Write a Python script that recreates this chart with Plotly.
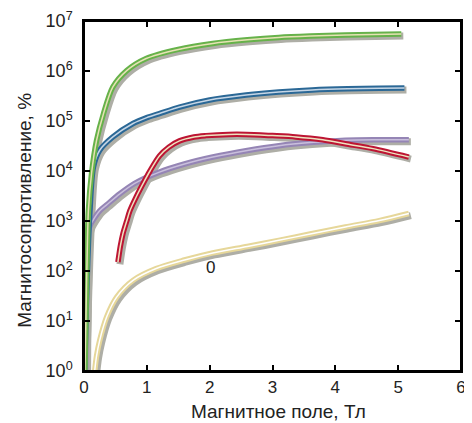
import plotly.graph_objects as go

# ---- data (field in T, magnetoresistance in %) ----
green_x = [0.015, 0.03, 0.05, 0.07, 0.12, 0.2, 0.31, 0.46, 0.68, 0.99, 1.5, 2.05, 2.6, 3.1, 3.6, 4.16, 4.6, 5.05]
green_y = [1e0, 1e1, 2.0e2, 1.6e3, 8.9e3, 4.1e4, 1.4e5, 4.8e5, 1.02e6, 1.78e6, 2.7e6, 3.55e6, 4.2e6, 4.7e6, 5.0e6, 5.25e6, 5.4e6, 5.5e6]

blue_x = [0.01, 0.03, 0.06, 0.095, 0.15, 0.25, 0.46, 0.78, 1.0, 1.2, 1.52, 2.0, 2.58, 3.1, 3.63, 4.2, 4.7, 5.1]
blue_y = [1e0, 1e1, 1.6e2, 1.6e3, 1.2e4, 2.6e4, 4.8e4, 8.9e4, 1.17e5, 1.41e5, 1.9e5, 2.63e5, 3.3e5, 3.8e5, 4.17e5, 4.4e5, 4.5e5, 4.57e5]

red_x = [0.54, 0.58, 0.62, 0.68, 0.73, 0.84, 0.94, 1.05, 1.2, 1.35, 1.52, 1.75, 1.94, 2.3, 2.58, 3.0, 3.37, 3.8, 4.16, 4.6, 5.17]
red_y = [1.5e2, 3.2e2, 5.6e2, 1.0e3, 1.6e3, 3.2e3, 5.6e3, 1.0e4, 2.0e4, 3.0e4, 4.0e4, 4.8e4, 5.1e4, 5.4e4, 5.4e4, 5.1e4, 4.8e4, 4.2e4, 3.5e4, 2.8e4, 1.9e4]

purple_x = [0.025, 0.03, 0.035, 0.04, 0.05, 0.07, 0.1, 0.15, 0.25, 0.36, 0.57, 0.8, 1.2, 1.6, 2.05, 2.6, 3.1, 3.6, 4.16, 4.6, 5.17]
purple_y = [1e0, 1e1, 6.3e1, 2.0e2, 4.0e2, 6.3e2, 8.3e2, 1.07e3, 1.6e3, 2.1e3, 3.5e3, 5.6e3, 9.5e3, 1.38e4, 1.9e4, 2.57e4, 3.2e4, 3.7e4, 4.1e4, 4.2e4, 4.2e4]

yellow_x = [0.17, 0.2, 0.25, 0.36, 0.52, 0.78, 1.15, 1.6, 2.05, 2.6, 3.1, 3.6, 4.16, 4.7, 5.17]
yellow_y = [1e0, 2.0e0, 4.1e0, 1.2e1, 3.0e1, 6.5e1, 1.12e2, 1.66e2, 2.3e2, 3.1e2, 4.1e2, 5.5e2, 7.6e2, 1.02e3, 1.41e3]

x_ticks = [0, 1, 2, 3, 4, 5, 6]
y_ticks = [1e0, 1e1, 1e2, 1e3, 1e4, 1e5, 1e6, 1e7]
y_tick_text = ["10<sup>%d</sup>" % i for i in range(8)]

x_title = "Магнитное поле, Тл"
y_title = "Магнитосопротивление, %"
label_text = "0"
label_x = 2.02
label_logy = 2.07

series = [
    (purple_x, purple_y, "#9585b5", "#c9bfdc"),
    (yellow_x, yellow_y, "#e6d79a", "#ffffff"),
    (red_x, red_y, "#bd1533", "#eee3c0"),
    (blue_x, blue_y, "#2b6896", "#c6d6e6"),
    (green_x, green_y, "#66b24a", "#e6e2b4"),
]
SM = 0.8

fig = go.Figure()
for xs, ys, c, ic in series:
    fig.add_trace(go.Scatter(x=xs, y=ys, mode="lines", xaxis="x", yaxis="y",
                             line=dict(color="#aeaea6", width=7, shape="spline", smoothing=SM),
                             hoverinfo="skip", showlegend=False))
for xs, ys, c, ic in series:
    fig.add_trace(go.Scatter(x=xs, y=ys, mode="lines", xaxis="x2", yaxis="y2",
                             line=dict(color=c, width=5.5, shape="spline", smoothing=SM),
                             showlegend=False))
    fig.add_trace(go.Scatter(x=xs, y=ys, mode="lines", xaxis="x2", yaxis="y2",
                             line=dict(color=ic, width=1.5, shape="spline", smoothing=SM),
                             hoverinfo="skip", showlegend=False))
fig.add_trace(go.Scatter(x=[None], y=[None], xaxis="x3", yaxis="y3", showlegend=False, hoverinfo="skip"))

FAM = "Liberation Sans, Arial, sans-serif"
px_per_x = 377 / 6.0
px_per_dec = 350 / 7.0
dx = 2.0 / px_per_x
dy = 2.0 / px_per_dec

tick_common = dict(ticks="inside", ticklen=6, tickwidth=1.5, tickcolor="black",
                   showgrid=False, zeroline=False, automargin=False)

frame = dict(color="#000000", width=2)

fig.update_layout(
    width=464, height=415,
    margin=dict(l=76, r=11, t=13, b=52, autoexpand=False),
    paper_bgcolor="white", plot_bgcolor="white",
    font=dict(family=FAM, size=18, color="#222"),
    xaxis=dict(range=[0 - dx, 6 - dx], visible=False, fixedrange=True, automargin=False),
    yaxis=dict(type="log", range=[0 + dy, 7 + dy], visible=False, fixedrange=True, automargin=False),
    xaxis2=dict(overlaying="x", side="bottom", range=[0, 6], tickvals=x_ticks,
                tickfont=dict(size=17), showline=True, linecolor="black", linewidth=1.5,
                mirror=True, **tick_common),
    yaxis2=dict(overlaying="y", side="left", type="log", range=[0, 7],
                tickvals=y_ticks, ticktext=y_tick_text, ticklabelstandoff=6,
                tickfont=dict(size=18), showline=True, linecolor="black", linewidth=1.5,
                mirror=True, **tick_common),
    xaxis3=dict(overlaying="x", side="top", range=[0, 6], tickvals=x_ticks,
                showticklabels=False, showline=True, linecolor="black", linewidth=1.5,
                **tick_common),
    yaxis3=dict(overlaying="y", side="right", type="log", range=[0, 7],
                tickvals=y_ticks, showticklabels=False, showline=True, linecolor="black",
                linewidth=1.5, **tick_common),
    shapes=[
        dict(type="line", xref="paper", yref="paper", x0=0, x1=1, y0=1, y1=1,
             line=frame, layer="above"),
        dict(type="line", xref="paper", yref="paper", x0=1, x1=1, y0=0, y1=1,
             line=frame, layer="above"),
        dict(type="line", xref="paper", yref="paper", x0=0, x1=0, y0=0, y1=1,
             line=frame, layer="above"),
        dict(type="line", xref="paper", yref="paper", x0=0, x1=1, y0=0, y1=0,
             line=frame, layer="above"),
    ],
    annotations=[
        dict(x=label_x, y=label_logy, xref="x2", yref="y2", text=label_text,
             showarrow=False, font=dict(size=17, color="#222")),
        dict(x=0.515, y=-0.115, xref="paper", yref="paper", text=x_title, showarrow=False,
             xanchor="center", yanchor="middle", font=dict(size=19, color="#222")),
        dict(x=-0.16, y=0.46, xref="paper", yref="paper", text=y_title, showarrow=False,
             textangle=-90, xanchor="center", yanchor="middle", font=dict(size=19, color="#222")),
    ],
)

fig.write_html("out.html")
